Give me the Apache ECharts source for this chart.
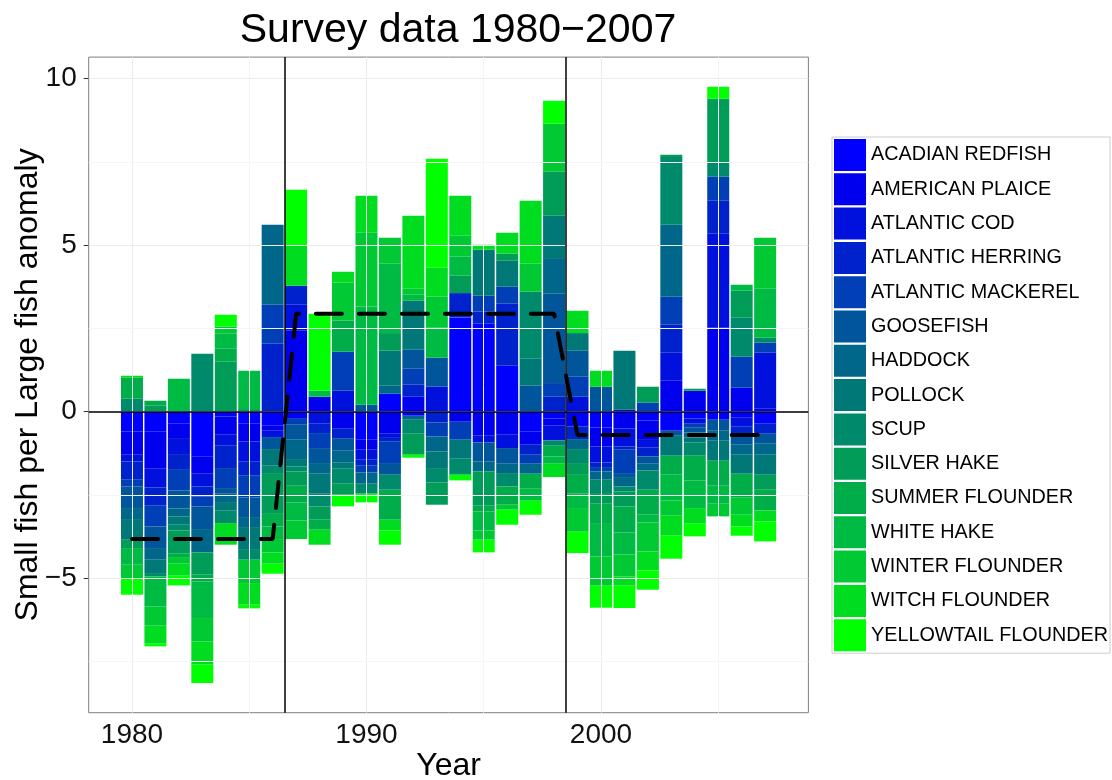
<!DOCTYPE html>
<html>
<head>
<meta charset="utf-8">
<title>Survey data 1980-2007</title>
<script src="https://cdn.jsdelivr.net/npm/echarts@6/dist/echarts.min.js"></script>
<style>
  html, body { margin: 0; padding: 0; background: #fff; }
  #chart { width: 1112px; height: 780px; }
</style>
</head>
<body>
<div id="chart"></div>
<script>
// years on the x axis
var years = [1980, 1981, 1982, 1983, 1984, 1985, 1986, 1987, 1988, 1989, 1990, 1991, 1992, 1993,
  1994, 1995, 1996, 1997, 1998, 1999, 2000, 2001, 2002, 2003, 2004, 2005, 2006, 2007];

var species = ['ACADIAN REDFISH', 'AMERICAN PLAICE', 'ATLANTIC COD', 'ATLANTIC HERRING',
  'ATLANTIC MACKEREL', 'GOOSEFISH', 'HADDOCK', 'POLLOCK', 'SCUP', 'SILVER HAKE',
  'SUMMER FLOUNDER', 'WHITE HAKE', 'WINTER FLOUNDER', 'WITCH FLOUNDER', 'YELLOWTAIL FLOUNDER'];

// anomaly per species, one value per year
var acadianRedfish = [-0.59, -0.60, -0.36, -1.35, -0.14, -0.36, -0.42, -0.19, 0, 0, -0.84, 0.54, -0.12, 0, 2.83, 2.64, 1.38, -0.60, -0.20, -0.44, -0.47, 0.06, -0.26, -0.57, -0.20, -0.24, -0.18, -0.36];
var americanPlaice = [-0.70, -1.11, -0.43, -0.51, -0.55, -0.53, -0.15, 2.43, 0.45, -0.51, -0.30, -0.66, 0.45, 0, -0.30, -0.72, -0.69, -0.39, -0.22, 0, -0.57, -0.50, -0.56, 0.93, 0.63, 2.52, 0.72, 0.09];
var atlanticCod = [-0.20, -0.56, -0.48, -0.38, -0.33, -0.61, -0.19, 0.78, -0.36, 0.63, -0.30, -0.10, 0, 0.75, 0, -0.20, -0.40, 0, -0.44, 0.45, -0.48, -0.54, -0.26, 0.84, -0.16, 2.82, -0.27, 1.68];
var atlanticHerring = [-0.55, -0.55, -0.45, -0.30, -0.67, -0.42, 2.04, 0.57, -0.28, -0.30, -0.18, -0.14, 0.36, -0.32, 0.73, 0.37, 1.86, -0.30, 0.45, -0.38, -0.14, -0.10, -0.26, 0.84, 0, 0.99, -0.27, -0.30];
var atlanticMackerel = [-0.20, -0.62, -0.64, -0.30, -0.60, -0.65, 1.17, -0.20, -0.45, 1.17, -0.20, -0.64, 0.48, -0.42, -0.54, 0.47, 0.51, -0.27, 0.41, 0.60, -0.13, -0.70, 0.27, 0.84, -0.12, 0.72, 0.93, 0.30];
var goosefish = [-0.65, -0.65, -0.54, -0.68, -0.17, -0.59, -0.36, -0.45, -0.45, -0.36, 0.21, -0.35, 0.57, 0.87, 0, -0.57, -0.47, 0.78, 2.68, 0.78, 0.75, -0.12, -0.22, -0.15, -0.14, -0.33, -0.27, -0.30];
var haddock = [-0.33, -0.35, -0.24, -0.70, -0.25, -0.30, 2.40, -0.58, -0.32, -0.36, -0.34, 0.24, -0.12, -0.45, 0, -0.30, -0.28, -0.30, 1.07, -0.30, -0.25, -0.28, -0.20, 2.16, -0.15, -0.30, -0.30, -0.33];
var pollock = [-0.62, -0.40, -0.25, 0, -0.26, -0.66, -0.50, -0.22, -0.60, -0.18, 0, 1.05, 1.47, -0.50, -0.57, 1.38, 0.78, 0.81, 1.27, 0.53, 0, 1.77, 0, -0.60, -0.15, -0.60, -0.57, -0.60];
var scup = [0.39, -0.10, -0.17, 1.74, -0.37, -0.32, -0.22, -0.15, -0.38, -0.45, -0.30, -0.45, -0.42, -0.43, -0.48, 0, -0.40, 2.01, -0.16, -0.42, -0.40, -0.15, -0.58, 2.03, -0.40, 0.42, 1.17, 0.15];
var silverHake = [-0.25, 0.18, -0.70, -0.67, 1.50, 0.08, -1.20, -0.43, -0.40, -0.33, 0, 0.53, -0.63, -0.67, 0.52, -1.03, 0.21, 0, 1.32, -0.33, -0.32, -0.45, 0.48, 0.07, 0.06, 1.92, 0.81, -0.45];
var summerFlounder = [0.63, 0.15, -0.10, -0.20, 0.39, 0, -0.40, -0.50, -0.30, 0.94, 0, -0.90, 0, 0, 0, -0.17, -0.55, -0.45, -0.32, -0.59, -0.58, -0.78, -0.75, -0.57, -0.74, -0.75, -0.72, -0.62];
var whiteHake = [-0.50, -0.90, 0.99, -1.10, 0.45, 1.15, -0.38, -0.54, 0.18, 0, 2.95, 2.08, 0.18, 0.90, 0.58, -0.57, 0, -0.36, -0.22, -0.43, -1.00, -0.66, -0.23, -0.77, -0.83, -0.54, 0.18, 1.47];
var winterFlounder = [-0.40, -0.58, -0.20, -0.70, 0.22, -0.70, -0.40, -0.56, 0, 1.14, 2.21, 0.78, 0.19, 0.93, 0.62, -0.28, -0.15, 0.84, 1.44, -0.71, -0.88, -0.66, -0.87, -0.46, 0, -0.38, -0.51, 1.53];
var witchFlounder = [0.06, -0.54, -0.36, -0.70, -0.65, -0.65, -0.34, 1.20, -0.45, 0.32, 1.11, -0.32, 2.18, 0.87, 1.20, 0.15, 0.63, 1.89, -0.40, 0.67, 0.48, -0.28, -0.57, -0.60, -0.47, 0, -0.35, -0.33];
var yellowtailFlounder = [-0.50, -0.08, -0.29, -0.55, 0.35, -0.11, -0.30, 1.68, 2.31, -0.35, -0.26, -0.43, -0.09, 3.27, -0.17, -0.38, -0.45, -0.42, 0.69, -0.64, -0.66, -0.67, -0.58, -0.69, -0.38, 0.36, -0.28, -0.60];

// mean of each regime (dashed line)
var regimeMean = [-3.82, -3.82, -3.82, -3.82, -3.82, -3.82, -3.82,
  2.94, 2.94, 2.94, 2.94, 2.94, 2.94, 2.94, 2.94, 2.94, 2.94, 2.94, 2.94,
  -0.70, -0.70, -0.70, -0.70, -0.70, -0.70, -0.70, -0.70, -0.70];

// regime shifts
var breaks = [1986.5, 1998.5];

var xTicks = [1980, 1990, 2000];
var xMinor = [1985, 1995, 2005];
var yTicks = [-5, 0, 5, 10];
var yMinor = [-7.5, -2.5, 2.5, 7.5];

var speciesValues = [acadianRedfish, americanPlaice, atlanticCod, atlanticHerring, atlanticMackerel,
  goosefish, haddock, pollock, scup, silverHake, summerFlounder, whiteHake, winterFlounder,
  witchFlounder, yellowtailFlounder];

var colors = ['#0000FF', '#0000EE', '#0011DD', '#0022CC', '#003FB5', '#00559B', '#00678A', '#007878',
  '#008A6C', '#009C58', '#00AD48', '#00BB43', '#00C934', '#00DD20', '#00FF00'];

var font = 'Liberation Sans, Arial, Helvetica, sans-serif';

// panel geometry (px); the bar grid is laid over the panel so that one year = one band
var panel = { left: 88.7, right: 303.6, top: 57.1, bottom: 67.3 };
var xMin = 1978.155, xMax = 2008.845;
var yMin = -9.03, yMax = 10.64;
var pxPerYear = (1112 - panel.left - panel.right) / (xMax - xMin);

var chart = echarts.init(document.getElementById('chart'), null, { renderer: 'canvas' });

var series = [];

// background grid lines
var gridLines = [];
xTicks.forEach(function (v) { gridLines.push({ xAxis: v, lineStyle: { color: '#EBEBEB', width: 1 } }); });
xMinor.forEach(function (v) { gridLines.push({ xAxis: v, lineStyle: { color: '#F5F5F5', width: 1 } }); });
yTicks.forEach(function (v) { gridLines.push({ yAxis: v, lineStyle: { color: '#EBEBEB', width: 1 } }); });
yMinor.forEach(function (v) { gridLines.push({ yAxis: v, lineStyle: { color: '#F5F5F5', width: 1 } }); });
series.push({
  name: 'grid',
  type: 'line',
  xAxisIndex: 0,
  yAxisIndex: 0,
  data: [],
  z: 0,
  silent: true,
  markLine: {
    silent: true,
    symbol: 'none',
    label: { show: false },
    lineStyle: { type: 'solid' },
    data: gridLines
  }
});

for (var i = 0; i < species.length; i++) {
  series.push({
    name: species[i],
    type: 'bar',
    xAxisIndex: 1,
    yAxisIndex: 1,
    stack: 'total',
    barWidth: 22,
    itemStyle: { color: colors[i] },
    data: speciesValues[i],
    z: 2
  });
}

// zero line and regime breaks
var refLines = [{ yAxis: 0 }];
breaks.forEach(function (b) { refLines.push({ xAxis: b }); });

var meanPts = [];
for (var k = 0; k < years.length; k++) {
  meanPts.push([years[k], regimeMean[k]]);
}
series.push({
  name: 'regime mean',
  type: 'line',
  xAxisIndex: 0,
  yAxisIndex: 0,
  data: meanPts,
  symbol: 'none',
  z: 5,
  lineStyle: { color: '#000', width: 4, type: [26, 17], cap: 'round' },
  markLine: {
    silent: true,
    symbol: 'none',
    label: { show: false },
    lineStyle: { color: '#000', width: 1.5, type: 'solid' },
    data: refLines
  }
});

var option = {
  animation: false,
  backgroundColor: '#fff',
  color: colors,
  title: {
    text: 'Survey data 1980\u22122007',
    left: 453,
    textAlign: 'center',
    top: 5,
    textStyle: { fontFamily: font, fontSize: 41, fontWeight: 'normal', color: '#000' }
  },
  legend: {
    data: species,
    orient: 'vertical',
    left: 832,
    top: 137,
    icon: 'rect',
    itemWidth: 32,
    itemHeight: 32,
    itemGap: 2.3,
    padding: 2,
    borderColor: '#cccccc',
    borderWidth: 1,
    textStyle: { fontFamily: font, fontSize: 19.8, color: '#000' }
  },
  grid: [{
    left: panel.left,
    right: panel.right,
    top: panel.top,
    bottom: panel.bottom,
    containLabel: false,
    outerBoundsMode: 'none',
    show: true,
    borderColor: '#7f7f7f',
    borderWidth: 1,
    backgroundColor: '#fff'
  }, {
    left: panel.left + (years[0] - 0.5 - xMin) * pxPerYear,
    right: panel.right + (xMax - years[years.length - 1] - 0.5) * pxPerYear,
    top: panel.top,
    bottom: panel.bottom,
    containLabel: false,
    outerBoundsMode: 'none'
  }],
  xAxis: [{
    type: 'value',
    gridIndex: 0,
    min: xMin,
    max: xMax,
    name: 'Year',
    nameLocation: 'middle',
    nameGap: 37,
    nameMoveOverlap: false,
    nameTextStyle: { fontFamily: font, fontSize: 32, color: '#000' },
    axisLine: { show: false },
    splitLine: { show: false },
    axisTick: { show: true, length: 5, customValues: xTicks, lineStyle: { color: '#333' } },
    axisLabel: {
      customValues: xTicks,
      margin: 9,
      fontFamily: font,
      fontSize: 28,
      color: '#111',
      formatter: function (v) { return v % 10 === 0 ? String(v) : ''; }
    }
  }, {
    type: 'category',
    gridIndex: 1,
    data: years,
    show: false
  }],
  yAxis: [{
    type: 'value',
    gridIndex: 0,
    min: yMin,
    max: yMax,
    name: 'Small fish per Large fish anomaly',
    nameLocation: 'middle',
    nameGap: 45,
    nameMoveOverlap: false,
    nameTextStyle: { fontFamily: font, fontSize: 32, color: '#000' },
    axisLine: { show: false },
    splitLine: { show: false },
    axisTick: { show: true, length: 5, customValues: yTicks, lineStyle: { color: '#333' } },
    axisLabel: {
      customValues: yTicks,
      margin: 12,
      fontFamily: font,
      fontSize: 28,
      color: '#111',
      formatter: function (v) { return String(v).replace('-', '\u2212'); }
    }
  }, {
    type: 'value',
    gridIndex: 1,
    min: yMin,
    max: yMax,
    show: false,
    splitLine: { show: false }
  }],
  series: series
};

chart.setOption(option);
</script>
</body>
</html>
